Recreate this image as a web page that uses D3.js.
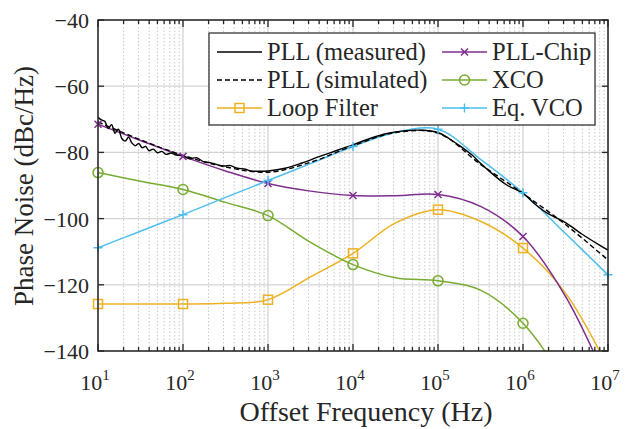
<!DOCTYPE html>
<html>
<head>
<meta charset="utf-8">
<script src="https://cdn.jsdelivr.net/npm/d3@7"></script>
<style>
  body { margin: 0; background: #fff; }
  text { font-family: "Liberation Serif", "Times New Roman", serif; fill: #262626; }
</style>
</head>
<body>
<script>
// chart size
var w = 637;
var h = 429;
var pLeft = 98, pRight = 608, pTop = 20, pBottom = 351;

// data (log10 of offset frequency in Hz, phase noise in dBc/Hz)
var logFreq = [1, 1.5, 2, 2.5, 3, 3.5, 4, 4.5, 5, 5.5, 6, 6.5, 7];
var pllChip = [-71.5, -76.4, -81.2, -85.6, -89.4, -91.7, -93.0, -93.1, -92.7, -96.3, -105.4, -123.5, -150];
var loopFilter = [-125.8, -125.8, -125.8, -125.6, -124.5, -117.6, -110.5, -101.3, -97.3, -100.8, -108.9, -122.5, -145];
var xco = [-86.1, -88.7, -91.2, -95.1, -99.1, -107.2, -113.9, -117.9, -118.8, -121.6, -131.6, -150, -175];
var eqVco = [-108.8, -103.8, -98.8, -93.6, -88.5, -83.4, -78.2, -74.0, -73.0, -82.1, -92.2, -104.5, -117];
var pllSim = [-70.8, -76.2, -80.9, -84.4, -86.0, -83.0, -78.0, -74.0, -74.2, -83.6, -92.4, -101.8, -112.5];

var measLogFreq = [1.00, 1.04, 1.08, 1.12, 1.16, 1.20, 1.24, 1.28, 1.32, 1.36, 1.40, 1.44, 1.48,
  1.52, 1.56, 1.60, 1.65, 1.70, 1.75, 1.80, 1.86, 1.92, 2.00, 2.08, 2.16, 2.24, 2.32, 2.40,
  2.48, 2.56, 2.64, 2.72, 2.80, 2.90, 3.00, 3.20, 3.40, 3.60, 3.80, 4.00, 4.20, 4.40, 4.60,
  4.80, 5.00, 5.13, 5.26, 5.40, 5.50, 5.60, 5.80, 6.00, 6.15, 6.30, 6.50, 6.70, 6.90, 7.00];
var pllMeas = [-69.4, -70.2, -70.6, -72.8, -71.6, -74.2, -73.0, -75.8, -76.6, -75.4, -77.2, -78.0, -77.3,
  -78.6, -78.2, -79.5, -79.0, -80.1, -79.7, -80.6, -80.2, -80.8, -81.0, -81.9, -81.6, -82.8, -83.1, -83.7,
  -84.1, -84.0, -84.8, -85.0, -85.6, -85.7, -85.6, -84.8, -83.2, -81.3, -79.5, -77.7, -75.8, -74.3, -73.5,
  -73.3, -74.0, -75.8, -78.1, -80.8, -83.3, -85.6, -89.7, -92.4, -95.8, -98.6, -101.2, -104.8, -108.0, -109.5];

var decades = [1e1, 1e2, 1e3, 1e4, 1e5, 1e6, 1e7];
var yTicks = [-40, -60, -80, -100, -120, -140];

var xScale = d3.scaleLog().domain([1e1, 1e7]).range([pLeft, pRight]);
var yScale = d3.scaleLinear().domain([-140, -40]).range([pBottom, pTop]);

var svg = d3.select("body")
  .append("svg")
  .attr("width", w)
  .attr("height", h);

svg.append("rect").attr("width", w).attr("height", h).attr("fill", "#fff");

svg.append("clipPath").attr("id", "plot")
  .append("rect")
  .attr("x", pLeft).attr("y", pTop)
  .attr("width", pRight - pLeft).attr("height", pBottom - pTop);

// minor frequencies
var minors = [];
decades.slice(0, 6).forEach(function(d) {
  for (var m = 2; m <= 9; m++) minors.push(d * m);
});

// grid
svg.selectAll(".minor")
  .data(minors)
  .enter()
  .append("line")
  .attr("x1", function(d) { return xScale(d); })
  .attr("x2", function(d) { return xScale(d); })
  .attr("y1", pTop).attr("y2", pBottom)
  .attr("stroke", "#c8c8c8")
  .attr("stroke-width", 1)
  .attr("stroke-dasharray", "1.5,2");

svg.selectAll(".xgrid")
  .data(decades)
  .enter()
  .append("line")
  .attr("x1", function(d) { return xScale(d); })
  .attr("x2", function(d) { return xScale(d); })
  .attr("y1", pTop).attr("y2", pBottom)
  .attr("stroke", "#d4d4d4")
  .attr("stroke-width", 1.3);

svg.selectAll(".ygrid")
  .data(yTicks)
  .enter()
  .append("line")
  .attr("x1", pLeft).attr("x2", pRight)
  .attr("y1", function(d) { return yScale(d); })
  .attr("y2", function(d) { return yScale(d); })
  .attr("stroke", "#d4d4d4")
  .attr("stroke-width", 1.3);

// series
function pairs(xs, ys) {
  return xs.map(function(lf, i) { return [Math.pow(10, lf), ys[i]]; });
}

var line = d3.line()
  .x(function(d) { return xScale(d[0]); })
  .y(function(d) { return yScale(d[1]); })
  .curve(d3.curveCatmullRom.alpha(0.5));

var series = [
  { name: "PLL (measured)", data: pairs(measLogFreq, pllMeas), color: "#000000", marker: null, dash: null },
  { name: "PLL (simulated)", data: pairs(logFreq, pllSim), color: "#000000", marker: null, dash: "5,3" },
  { name: "Loop Filter", data: pairs(logFreq, loopFilter), color: "#EDB120", marker: "square", dash: null },
  { name: "PLL-Chip", data: pairs(logFreq, pllChip), color: "#7E2F8E", marker: "x", dash: null },
  { name: "XCO", data: pairs(logFreq, xco), color: "#77AC30", marker: "circle", dash: null },
  { name: "Eq. VCO", data: pairs(logFreq, eqVco), color: "#4DBEEE", marker: "plus", dash: null }
];

var plot = svg.append("g").attr("clip-path", "url(#plot)");

// draw order: coloured first, black on top
[2, 4, 3, 5, 1, 0].forEach(function(i) {
  var s = series[i];
  plot.append("path")
    .attr("d", line(s.data))
    .attr("fill", "none")
    .attr("stroke", s.color)
    .attr("stroke-width", i < 2 ? 1.4 : 1.5)
    .attr("stroke-dasharray", s.dash);
});

function drawMarker(g, type, color) {
  if (type == "square") {
    g.append("rect").attr("x", -4.5).attr("y", -4.5).attr("width", 9).attr("height", 9)
      .attr("fill", "none").attr("stroke", color).attr("stroke-width", 1.5);
  } else if (type == "circle") {
    g.append("circle").attr("r", 5)
      .attr("fill", "none").attr("stroke", color).attr("stroke-width", 1.5);
  } else if (type == "x") {
    g.append("path").attr("d", "M-3.5,-3.5L3.5,3.5M-3.5,3.5L3.5,-3.5")
      .attr("stroke", color).attr("stroke-width", 1.5);
  } else if (type == "plus") {
    g.append("path").attr("d", "M-4.5,0H4.5M0,-4.5V4.5")
      .attr("stroke", color).attr("stroke-width", 1.5);
  }
}

series.forEach(function(s) {
  if (!s.marker) return;
  s.data.forEach(function(d) {
    var lf = Math.log10(d[0]);
    if (Math.abs(lf - Math.round(lf)) > 1e-6) return;
    if (d[1] < -140 || d[1] > -40) return;
    var g = svg.append("g")
      .attr("transform", "translate(" + xScale(d[0]) + "," + yScale(d[1]) + ")");
    drawMarker(g, s.marker, s.color);
  });
});

// axes box and ticks
var axisColor = "#262626";
svg.append("rect")
  .attr("x", pLeft).attr("y", pTop)
  .attr("width", pRight - pLeft).attr("height", pBottom - pTop)
  .attr("fill", "none")
  .attr("stroke", axisColor)
  .attr("stroke-width", 1.5);

[pBottom, pTop].forEach(function(yy) {
  var dir = yy == pBottom ? -1 : 1;
  svg.selectAll(null).data(decades).enter().append("line")
    .attr("x1", function(d) { return xScale(d); })
    .attr("x2", function(d) { return xScale(d); })
    .attr("y1", yy).attr("y2", yy + dir * 7)
    .attr("stroke", axisColor).attr("stroke-width", 1.3);
  svg.selectAll(null).data(minors).enter().append("line")
    .attr("x1", function(d) { return xScale(d); })
    .attr("x2", function(d) { return xScale(d); })
    .attr("y1", yy).attr("y2", yy + dir * 4)
    .attr("stroke", axisColor).attr("stroke-width", 1.3);
});

[pLeft, pRight].forEach(function(xx) {
  var dir = xx == pLeft ? 1 : -1;
  svg.selectAll(null).data(yTicks).enter().append("line")
    .attr("x1", xx).attr("x2", xx + dir * 6)
    .attr("y1", function(d) { return yScale(d); })
    .attr("y2", function(d) { return yScale(d); })
    .attr("stroke", axisColor).attr("stroke-width", 1.3);
});

// tick labels
svg.selectAll(".ylab")
  .data(yTicks)
  .enter()
  .append("text")
  .attr("x", pLeft - 9)
  .attr("y", function(d) { return yScale(d) + 8; })
  .attr("text-anchor", "end")
  .attr("font-size", "22px")
  .text(function(d) { return "\u2212" + Math.abs(d); });

var xl = svg.selectAll(".xlab")
  .data(decades)
  .enter()
  .append("text")
  .attr("x", function(d) { return xScale(d) - 3; })
  .attr("y", 390)
  .attr("text-anchor", "middle")
  .attr("font-size", "22px");
xl.append("tspan").text("10");
xl.append("tspan")
  .attr("dy", -10)
  .attr("font-size", "15px")
  .text(function(d) { return Math.round(Math.log10(d)); });

// axis titles
svg.append("text")
  .attr("x", 366)
  .attr("y", 421)
  .attr("text-anchor", "middle")
  .attr("font-size", "28px")
  .text("Offset Frequency (Hz)");

svg.append("text")
  .attr("transform", "translate(33,186) rotate(-90)")
  .attr("text-anchor", "middle")
  .attr("font-size", "27px")
  .text("Phase Noise (dBc/Hz)");

// legend
var legend = svg.append("g");
legend.append("rect")
  .attr("x", 209).attr("y", 33)
  .attr("width", 386).attr("height", 92)
  .attr("fill", "#fff")
  .attr("stroke", axisColor)
  .attr("stroke-width", 1.2);

var legendPos = [[217, 52], [217, 80], [217, 108], [442, 52], [442, 80], [442, 108]];
series.forEach(function(s, i) {
  var p = legendPos[i];
  legend.append("line")
    .attr("x1", p[0]).attr("x2", p[0] + 45)
    .attr("y1", p[1]).attr("y2", p[1])
    .attr("stroke", s.color)
    .attr("stroke-width", 1.5)
    .attr("stroke-dasharray", s.dash);
  if (s.marker) {
    var g = legend.append("g").attr("transform", "translate(" + (p[0] + 22.5) + "," + p[1] + ")");
    drawMarker(g, s.marker, s.color);
  }
  legend.append("text")
    .attr("x", p[0] + 50)
    .attr("y", p[1] + 8)
    .attr("font-size", "24.5px")
    .attr("fill", "#000")
    .text(s.name);
});
</script>
</body>
</html>
